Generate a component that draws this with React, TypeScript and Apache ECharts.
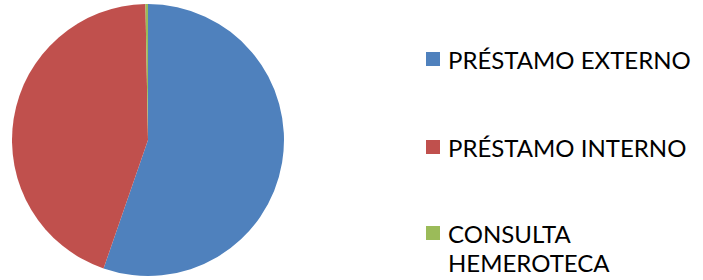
import React, { useEffect, useRef } from "react";
import * as echarts from "echarts";

const categories = ["PRÉSTAMO EXTERNO", "PRÉSTAMO INTERNO", "CONSULTA HEMEROTECA"];
const values = [55.3, 44.4, 0.3];
const colors = ["#4F81BD", "#C0504D", "#9BBB59"];
const legendLabels = ["PRÉSTAMO EXTERNO", "PRÉSTAMO INTERNO", "CONSULTA\nHEMEROTECA"];

const FONT = "Lato";
const LH = 29;

export default function App() {
  const ref = useRef<HTMLDivElement>(null);
  useEffect(() => {
    if (!ref.current) return;
    const chart = echarts.init(ref.current, null, { renderer: "svg" });
    const centers = [59, 147, 233];
    const legendGraphics = categories.map((name, i) => ({
      type: "group",
      children: [
        {
          type: "rect",
          shape: { x: 426, y: centers[i] - 7, width: 14, height: 14 },
          style: { fill: colors[i] },
        },
        {
          type: "text",
          x: 448,
          y: centers[i] - LH / 2,
          style: {
            text: legendLabels[i],
            fontFamily: FONT,
            fontSize: 24,
            lineHeight: LH,
            fill: "#000",
            verticalAlign: "top",
            align: "left",
          },
        },
      ],
    }));
    chart.setOption({
      animation: false,
      color: colors,
      graphic: legendGraphics,
      series: [
        {
          type: "pie",
          center: [148, 140],
          radius: 136,
          startAngle: 90,
          clockwise: true,
          label: { show: false },
          labelLine: { show: false },
          emphasis: { disabled: true },
          itemStyle: { borderWidth: 0 },
          data: categories.map((name, i) => ({ name, value: values[i] })),
        },
      ],
    });
    return () => chart.dispose();
  }, []);
  return (
    <div
      ref={ref}
      style={{ position: "fixed", left: 0, top: 0, width: 703, height: 280, background: "#fff" }}
    />
  );
}
